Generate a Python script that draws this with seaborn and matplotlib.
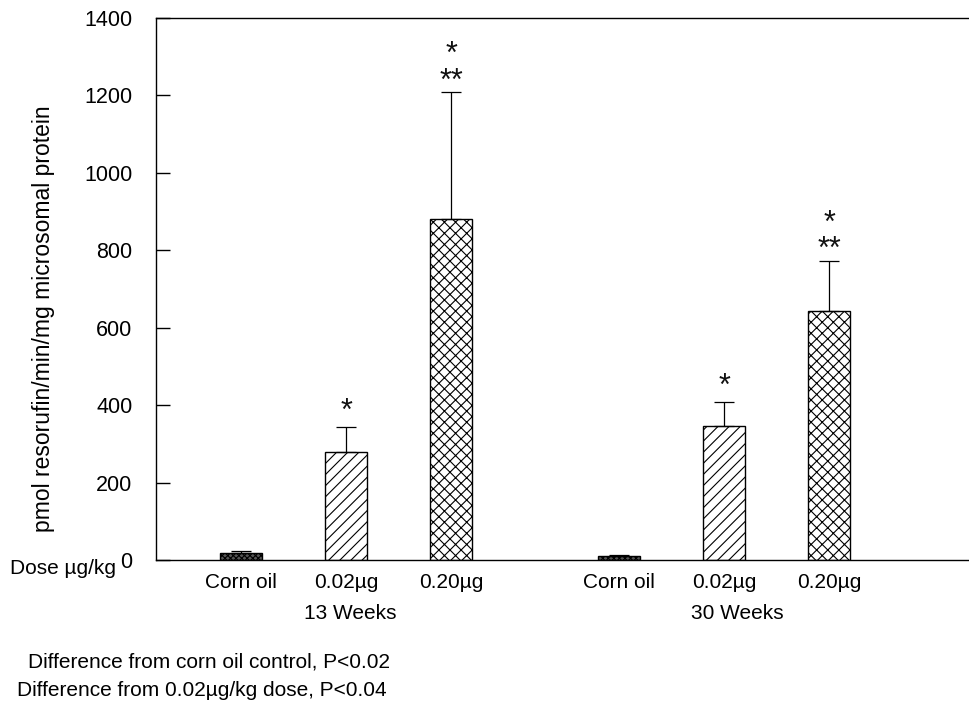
import matplotlib
matplotlib.use("Agg")
import matplotlib.pyplot as plt
import seaborn as sns
import numpy as np
import pandas as pd

# ---- data ----
groups = ["13 Weeks", "13 Weeks", "13 Weeks", "30 Weeks", "30 Weeks", "30 Weeks"]
doses = ["Corn oil", "0.02µg", "0.20µg", "Corn oil", "0.02µg", "0.20µg"]
means = [18, 278, 881, 10, 346, 643]
errors = [6, 65, 327, 3, 62, 130]
stars = ["", "*", "*\n**", "", "*", "*\n**"]
yticks = [0, 200, 400, 600, 800, 1000, 1200, 1400]
week_labels = ["13 Weeks", "30 Weeks"]
ylabel = "pmol resorufin/min/mg microsomal protein"
dose_label = "Dose µg/kg"
footnotes = ["Difference from corn oil control, P<0.02",
             "Difference from 0.02µg/kg dose, P<0.04"]

# ---- layout (not data) ----
positions = [0, 1, 2, 3.6, 4.6, 5.6]
week_pos = [1.04, 4.73]
hatches = ["xxxxxx", "///", "xxx", "xxxxxx", "///", "xxx"]
faces = ["#555555", "white", "white", "#555555", "white", "white"]

sns.set_style("white")
plt.rcParams["font.family"] = ["Liberation Sans", "DejaVu Sans"]
plt.rcParams["text.color"] = "black"
plt.rcParams["xtick.color"] = "black"
plt.rcParams["ytick.color"] = "black"
plt.rcParams["axes.labelcolor"] = "black"
plt.rcParams["hatch.linewidth"] = 0.8
plt.rcParams["hatch.color"] = "black"

fig = plt.figure(figsize=(9.70, 7.07), dpi=100)
ax = fig.add_axes([156 / 970, 147 / 707, 1 - 156 / 970, 542 / 707])

df = pd.DataFrame({"pos": positions, "mean": means})
sns.barplot(data=df, x="pos", y="mean", native_scale=True, width=0.4,
            color="white", edgecolor="black", linewidth=1.0, errorbar=None, ax=ax)

for p, h, fc in zip(ax.patches, hatches, faces):
    p.set_hatch(h)
    p.set_facecolor(fc)
    p.set_edgecolor("black")

ax.errorbar(positions, means, yerr=[np.zeros(len(errors)), errors], fmt="none",
            ecolor="black", elinewidth=0.9, capsize=7.5, capthick=0.9, zorder=3)

for x, m, e, s in zip(positions, means, errors, stars):
    if not s:
        continue
    off = 5.5 if "\n" not in s else 1.8
    ax.annotate(s, xy=(x, m + e), xytext=(0, off), textcoords="offset points",
                ha="center", va="baseline", fontsize=22, color="#111111",
                linespacing=0.85, multialignment="center")

ax.set_xlim(-0.81, -0.81 + 814 / 105)
ax.set_ylim(0, 1400)
ax.set_yticks(yticks)
ax.set_yticklabels([str(t) for t in yticks], fontsize=15.5)
ax.set_xticks(positions)
ax.set_xticklabels(doses, fontsize=15)
ax.tick_params(axis="y", direction="in", length=10, width=1, pad=17, left=True,
               colors="black")
ax.tick_params(axis="x", length=0, pad=9, colors="black")
ax.set_xlabel("")
ax.set_ylabel(ylabel, fontsize=16.5, color="black")
ax.yaxis.set_label_coords(-0.124, 0.445)

for side in ["left", "bottom", "top"]:
    ax.spines[side].set_visible(True)
    ax.spines[side].set_color("black")
    ax.spines[side].set_linewidth(1.0)
ax.spines["right"].set_visible(False)

for wp, wl in zip(week_pos, week_labels):
    ax.text(wp, -0.098, wl, transform=ax.get_xaxis_transform(), ha="center",
            va="center", fontsize=15, color="black")

fig.text(10 / 970, 1 - 568 / 707, dose_label, ha="left", va="center", fontsize=15)
fig.text(28 / 970, 1 - 662 / 707, footnotes[0], ha="left", va="center", fontsize=15)
fig.text(17 / 970, 1 - 690 / 707, footnotes[1], ha="left", va="center", fontsize=15)

fig.savefig("out.png", dpi=100)
